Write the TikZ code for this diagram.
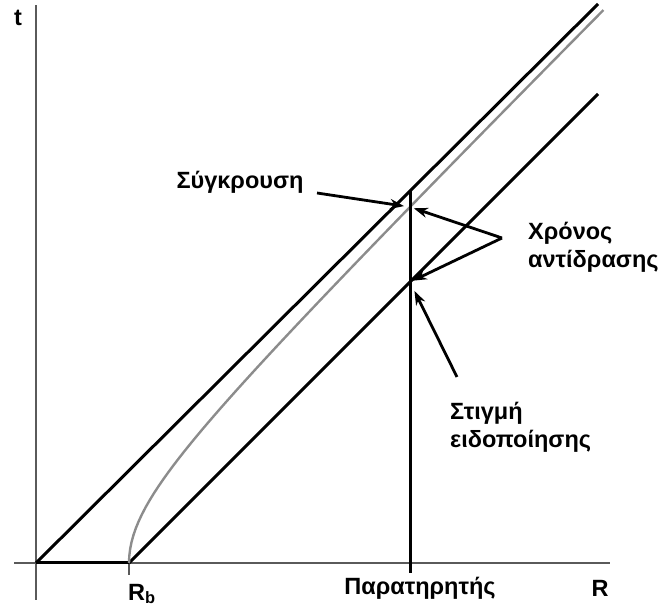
\documentclass[tikz,border=0pt]{standalone}
\usepackage{fontspec}
\setmainfont{Liberation Sans}
\usepackage{tikz}
\usetikzlibrary{arrows.meta,positioning,calc}
\definecolor{axisgray}{HTML}{5A5A5A}
\definecolor{curvegray}{HTML}{8C8C8C}

\begin{document}
\begin{tikzpicture}[
  x=1pt,y=1pt,>=Stealth,
  lbl/.style={font=\fontsize{23.5}{28}\selectfont\bfseries, align=left, inner sep=0pt},
  axisline/.style={line width=2pt, color=axisgray},
  world/.style={line width=3pt, color=black},
  signal/.style={->, line width=2.8pt, color=black, arrows={-Stealth[length=14pt,width=10pt]}},
]
\useasboundingbox (-36,-49) rectangle (631,563);
% axes
\coordinate (o) at (0,0);
\coordinate (ttop) at (0,558);
\coordinate (tbot) at (0,-37);
\coordinate (rleft) at (-22,0);
\coordinate (rright) at (574,0);
\draw[axisline] (tbot)--(ttop);
\draw[axisline] (rleft)--(rright);
\coordinate (rb) at (93,0);
\coordinate (rbtick) at (93,-12);
\draw[axisline] (rb)--(rbtick);
\draw[world] (o)--(rb);
% light-like lines
\coordinate (l1end) at (562,559);
\coordinate (l2end) at (562,469);
\draw[world] (o)--(l1end);
\draw[world] (rb)--(l2end);
% accelerated worldline
\draw[line width=2.4pt, color=curvegray, domain=0:5.53, samples=80, variable=\t]
  plot ({8+100*sqrt(\t*\t+0.7225)},{100*\t});
% observer
\coordinate (obstop) at (374,373);
\coordinate (obsbot) at (374,-10);
\draw[world] (obsbot)--(obstop);
\coordinate (coll) at (374,356);
\coordinate (notif) at (374,281);
% labels
\node[lbl] (tlab) at (-18,545) {t};
\node[lbl] (rblab) at (106,-31) {R\textsubscript{b}};
\node[lbl] (obslab) at (384,-25) {Παρατηρητής};
\node[lbl] (rlab) at (564,-25) {R};
\node[lbl] (colllab) at (204,381) {Σύγκρουση};
\node[lbl,anchor=west] (reactlab) at (492,316) {Χρόνος\\αντίδρασης};
\node[lbl,anchor=west] (notiflab) at (414,136) {Στιγμή\\ειδοποίησης};
% pointers
\coordinate (collfrom) at (281,370);
\coordinate (reactfrom) at (466,325);
\coordinate (notiffrom) at (421,186);
\draw[signal,shorten >=6pt] (collfrom)--(coll);
\draw[signal,shorten >=4pt] (reactfrom)--(coll);
\draw[signal,shorten >=3pt] (reactfrom)--(notif);
\draw[signal,shorten >=10pt] (notiffrom)--(notif);
\end{tikzpicture}
\end{document}
